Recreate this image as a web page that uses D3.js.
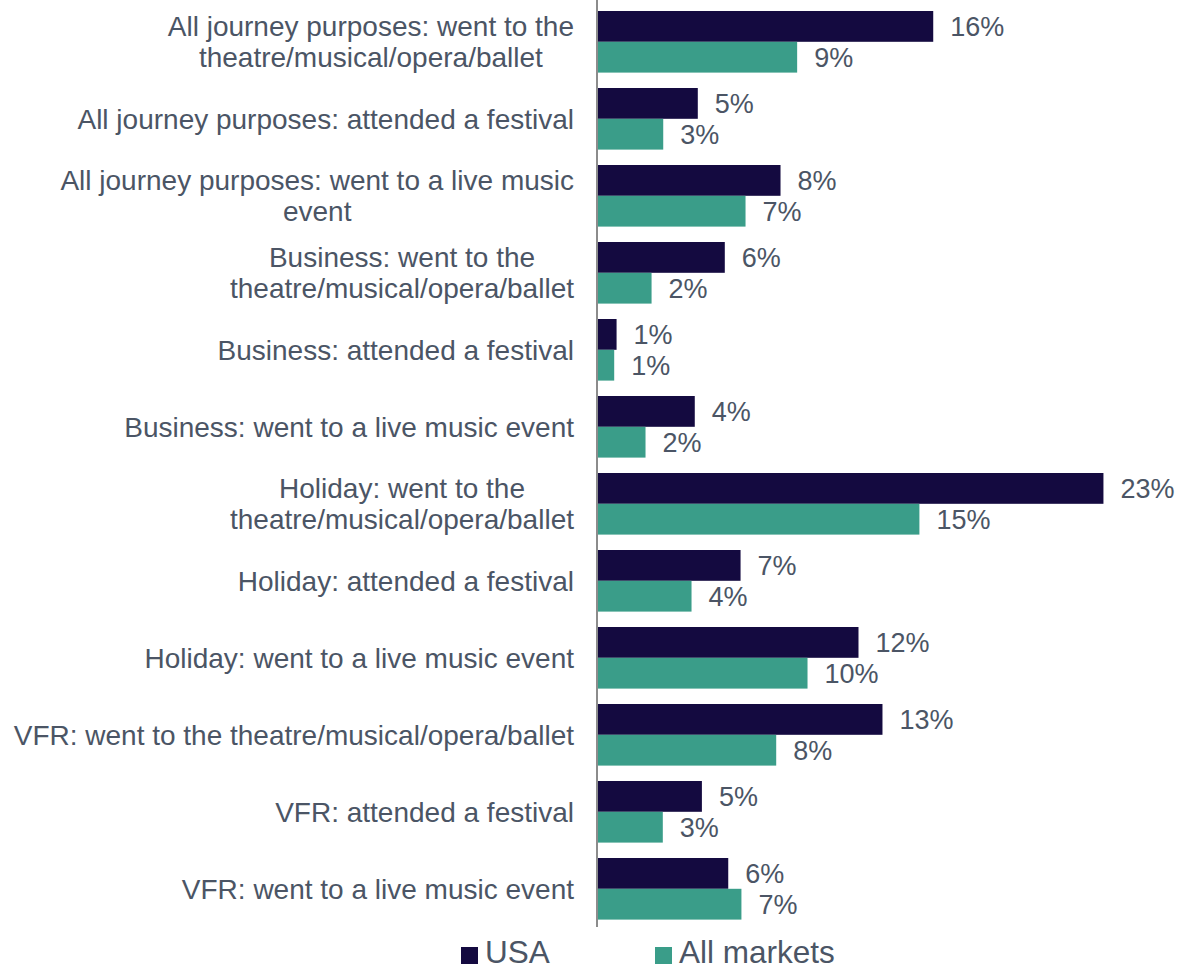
<!DOCTYPE html>
<html>
<head>
<meta charset="utf-8">
<script src="https://cdn.jsdelivr.net/npm/d3@7"></script>
<style>
  html, body { margin: 0; padding: 0; background: #ffffff; }
  svg { display: block; font-family: "Liberation Sans", Arial, sans-serif; }
</style>
</head>
<body>
<svg id="chart" width="1178" height="970"></svg>
<script>
const categories = [
  "All journey purposes: went to the\ntheatre/musical/opera/ballet",
  "All journey purposes: attended a festival",
  "All journey purposes: went to a live music\nevent",
  "Business: went to the\ntheatre/musical/opera/ballet",
  "Business: attended a festival",
  "Business: went to a live music event",
  "Holiday: went to the\ntheatre/musical/opera/ballet",
  "Holiday: attended a festival",
  "Holiday: went to a live music event",
  "VFR: went to the theatre/musical/opera/ballet",
  "VFR: attended a festival",
  "VFR: went to a live music event"
];
const seriesNames = ["USA", "All markets"];
const usaValues = [15.52, 4.62, 8.45, 5.87, 0.86, 4.48, 23.40, 6.60, 12.06, 13.17, 4.81, 6.03];
const allMarketsValues = [9.22, 3.02, 6.83, 2.48, 0.75, 2.20, 14.88, 4.33, 9.70, 8.25, 3.00, 6.64];
const colors = ["#140a40", "#3a9d89"];

const svg = d3.select("#chart");
const textColor = "#4b5565";

const x = d3.scaleLinear().domain([0, 25]).range([598, 1138]);
const y = d3.scaleBand().domain(categories).range([3.3, 927.3]).paddingInner(0.2).paddingOuter(0.1);
const ySub = d3.scaleBand().domain(seriesNames).range([0, y.bandwidth()]);

const data = categories.map((c, i) => ({ cat: c, vals: [usaValues[i], allMarketsValues[i]] }));

const groups = svg.append("g").selectAll("g").data(data).join("g")
  .attr("transform", d => `translate(0,${y(d.cat)})`);

groups.selectAll("rect").data(d => d.vals.map((v, j) => ({ v, s: seriesNames[j], j })))
  .join("rect")
  .attr("x", x(0))
  .attr("y", d => ySub(d.s))
  .attr("width", d => x(d.v) - x(0))
  .attr("height", ySub.bandwidth())
  .attr("fill", d => colors[d.j]);

const fmt = v => d3.format(".0f")(v) + "%";
groups.selectAll("text.val").data(d => d.vals.map((v, j) => ({ v, s: seriesNames[j], j })))
  .join("text")
  .attr("class", "val")
  .attr("x", d => x(d.v) + 17)
  .attr("y", d => ySub(d.s) + ySub.bandwidth() / 2)
  .attr("dy", "0.36em")
  .attr("font-size", 27)
  .attr("fill", textColor)
  .text(d => fmt(d.v));

// axis line
const axis = d3.axisLeft(y).tickSize(0).tickFormat("");
const axG = svg.append("g").attr("transform", `translate(597,0)`).call(axis);
axG.select(".domain").attr("stroke", "#8c8c8c").attr("stroke-width", 2)
  .attr("d", `M0,0V927`);

// category labels (multi-line, centred lines, right aligned block)
const labelRight = 574;
const lineH = 31;
data.forEach(d => {
  const lines = d.cat.split("\n");
  const g = svg.append("g");
  const texts = lines.map((ln, k) => g.append("text")
    .attr("font-size", 28)
    .attr("fill", textColor)
    .attr("text-anchor", "middle")
    .attr("y", y(d.cat) + y.bandwidth() / 2 + (k - (lines.length - 1) / 2) * lineH)
    .attr("dy", "0.36em")
    .text(ln));
  const maxW = d3.max(texts, t => t.node().getComputedTextLength());
  texts.forEach(t => t.attr("x", labelRight - maxW / 2));
});

// legend
const legend = svg.append("g");
const legendX = [461, 655];
seriesNames.forEach((s, j) => {
  legend.append("rect").attr("x", legendX[j]).attr("y", 947).attr("width", 17).attr("height", 17).attr("fill", colors[j]);
  legend.append("text").attr("x", legendX[j] + 24).attr("y", 963)
    .attr("font-size", 31.5).attr("fill", textColor).text(s);
});
</script>
</body>
</html>
